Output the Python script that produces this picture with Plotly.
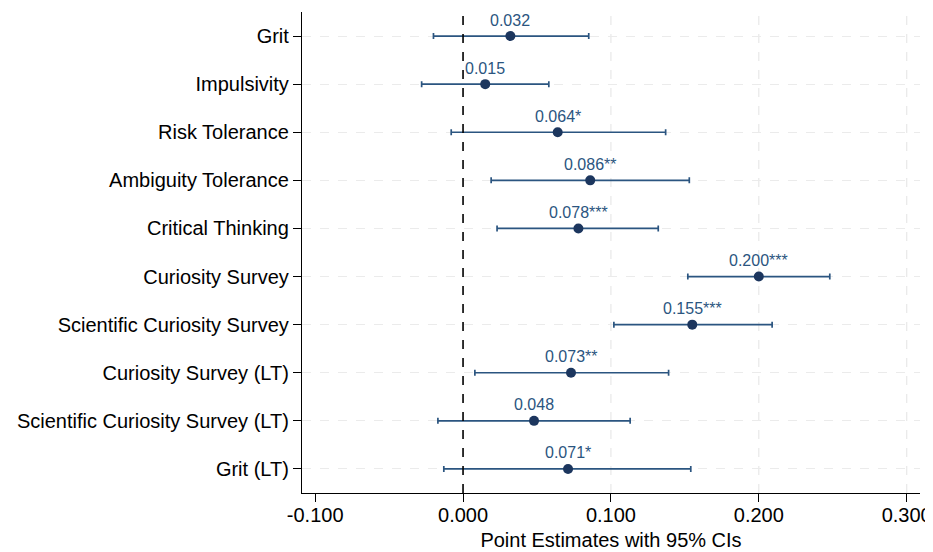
import plotly.graph_objects as go

categories = ["Grit", "Impulsivity", "Risk Tolerance", "Ambiguity Tolerance",
              "Critical Thinking", "Curiosity Survey", "Scientific Curiosity Survey",
              "Curiosity Survey (LT)", "Scientific Curiosity Survey (LT)", "Grit (LT)"]
estimates = [0.032, 0.015, 0.064, 0.086, 0.078, 0.200, 0.155, 0.073, 0.048, 0.071]
ci_low = [-0.020, -0.028, -0.008, 0.019, 0.023, 0.152, 0.102, 0.008, -0.017, -0.013]
ci_high = [0.085, 0.058, 0.137, 0.153, 0.132, 0.248, 0.209, 0.139, 0.113, 0.154]
stars = ["", "", "*", "**", "***", "***", "***", "**", "", "*"]
x_ticks = [-0.1, 0.0, 0.1, 0.2, 0.3]
x_tick_labels = ["-0.100", "0.000", "0.100", "0.200", "0.300"]
grid_x = [0.1, 0.2, 0.3]

bar_color = "#2b5580"
dot_color = "#1c365e"
font_family = "Liberation Sans, Arial, Helvetica, sans-serif"

fig = go.Figure()

for gx in grid_x:
    fig.add_shape(type="line", xref="x", yref="paper", x0=gx, x1=gx, y0=0, y1=1,
                  line=dict(color="#e8e8e8", width=1.2, dash="dash"), layer="below")

fig.add_shape(type="line", xref="x", yref="paper", x0=0, x1=0, y0=0, y1=1,
              line=dict(color="black", width=1.6, dash="dash"), layer="above")

fig.add_trace(go.Scatter(
    x=estimates, y=categories, mode="markers",
    marker=dict(color=dot_color, size=10),
    error_x=dict(type="data", symmetric=False,
                 array=[h - e for h, e in zip(ci_high, estimates)],
                 arrayminus=[e - l for e, l in zip(estimates, ci_low)],
                 color=bar_color, thickness=1.7, width=3),
    showlegend=False, hoverinfo="skip"))

for c, e, s in zip(categories, estimates, stars):
    fig.add_annotation(x=e, y=c, text=f"{e:.3f}{s}", showarrow=False,
                       yshift=16, font=dict(size=16, color=bar_color, family=font_family))

fig.update_layout(
    width=925, height=544,
    margin=dict(l=294, r=13, t=4, b=59),
    plot_bgcolor="white", paper_bgcolor="white",
    font=dict(family=font_family, color="black"),
)
fig.update_xaxes(range=[-0.1089, 0.309], tickvals=x_ticks, ticktext=x_tick_labels,
                 showgrid=False, zeroline=False, showline=True, linecolor="black",
                 linewidth=1.3, ticks="outside", ticklen=8, tickcolor="black",
                 automargin=False, ticklabelstandoff=-4,
                 tickfont=dict(size=20), title=dict(text="Point Estimates with 95% CIs",
                 font=dict(size=20), standoff=7))
fig.update_yaxes(categoryorder="array", categoryarray=categories, autorange=False,
                 range=[9.5, -0.5], showgrid=True, gridcolor="#ebebeb", griddash="dash",
                 gridwidth=1.2, zeroline=False, showline=True, linecolor="black",
                 linewidth=1.3, ticks="outside", ticklen=8, tickcolor="black",
                 automargin=False, tickfont=dict(size=20))

fig.write_html("out.html")
